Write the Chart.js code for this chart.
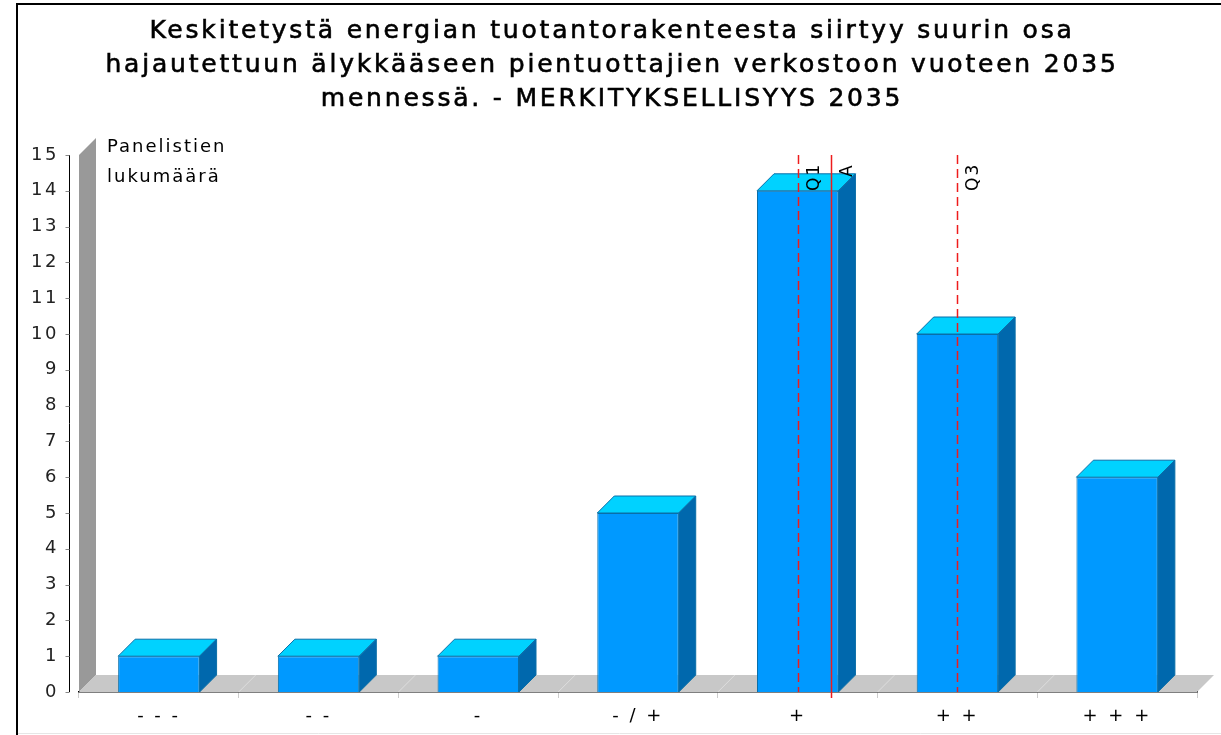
<!DOCTYPE html>
<html>
<head>
<meta charset="utf-8">
<script src="https://cdn.jsdelivr.net/npm/chart.js@4/dist/chart.umd.min.js"></script>
<style>
  html, body { margin: 0; padding: 0; background: #fff; }
  #wrap { width: 1221px; height: 735px; }
</style>
</head>
<body>
<div id="wrap"><canvas id="chart" width="1221" height="735"></canvas></div>
<script>
// data
var titleLines = [
  'Keskitetystä energian tuotantorakenteesta siirtyy suurin osa',
  'hajautettuun älykkääseen pientuottajien verkostoon vuoteen 2035',
  'mennessä. - MERKITYKSELLISYYS 2035'
];
var categories = ['- - -', '- -', '-', '- / +', '+', '+ +', '+ + +'];
var counts = [1, 1, 1, 5, 14, 10, 6];
var yTicks = [0, 15];
var axisLabel = ['Panelistien', 'lukumäärä'];
// reference lines, position in category units
var refNames = ['Q1', 'A', 'Q3'];
var refValues = [4, 4.21, 5];

var DEPTH = 17;
var FONT = 'DejaVu Sans';
var SPACING = '2.5px';

var deco = {
  id: 'deco',
  beforeDraw: function(chart) {
    var c = chart.ctx;
    // the canvas gets reset on resize, so the spacing is set here
    c.letterSpacing = SPACING;
    c.save();
    c.strokeStyle = '#000';
    c.lineWidth = 2;
    c.beginPath();
    c.moveTo(17, 736);
    c.lineTo(17, 4);
    c.lineTo(1222, 4);
    c.stroke();
    c.strokeStyle = '#e6e6e6';
    c.lineWidth = 1;
    c.beginPath();
    c.moveTo(18, 733.5);
    c.lineTo(1221, 733.5);
    c.stroke();

    // title, spaced out like the original
    c.fillStyle = '#000';
    c.strokeStyle = '#000';
    c.lineWidth = 0.6;
    c.font = '25px ' + FONT;
    c.letterSpacing = '2.8px';
    c.textAlign = 'center';
    c.textBaseline = 'middle';
    titleLines.forEach(function(t, i) {
      c.fillText(t, 612, 31 + i * 34);
      c.strokeText(t, 612, 31 + i * 34);
    });
    c.restore();
  },
  beforeDatasetsDraw: function(chart) {
    var c = chart.ctx, a = chart.chartArea, d = DEPTH;
    c.save();
    // left wall
    c.fillStyle = '#999999';
    c.beginPath();
    c.moveTo(a.left, a.top);
    c.lineTo(a.left + d, a.top - d);
    c.lineTo(a.left + d, a.bottom - d);
    c.lineTo(a.left, a.bottom);
    c.closePath();
    c.fill();
    // floor
    c.fillStyle = '#c8c8c8';
    c.beginPath();
    c.moveTo(a.left, a.bottom);
    c.lineTo(a.left + d, a.bottom - d);
    c.lineTo(a.right + d, a.bottom - d);
    c.lineTo(a.right, a.bottom);
    c.closePath();
    c.fill();
    c.strokeStyle = '#dedede';
    c.lineWidth = 1;
    var w = (a.right - a.left) / categories.length;
    for (var i = 1; i < categories.length; i++) {
      var x = a.left + w * i;
      c.beginPath();
      c.moveTo(x, a.bottom);
      c.lineTo(x + d, a.bottom - d);
      c.stroke();
    }
    c.restore();
  },
  afterDatasetsDraw: function(chart) {
    var c = chart.ctx, a = chart.chartArea, d = DEPTH;
    var ys = chart.scales.y, xs = chart.scales.x;
    c.save();
    chart.getDatasetMeta(0).data.forEach(function(bar) {
      var l = bar.x - bar.width / 2, r = bar.x + bar.width / 2;
      var t = bar.y, b = bar.base;
      c.lineWidth = 1;
      c.strokeStyle = '#0a6fa8';
      c.fillStyle = '#00d2ff';
      c.beginPath();
      c.moveTo(l, t);
      c.lineTo(l + d, t - d);
      c.lineTo(r + d, t - d);
      c.lineTo(r, t);
      c.closePath();
      c.fill();
      c.stroke();
      c.fillStyle = '#0068ad';
      c.beginPath();
      c.moveTo(r, t);
      c.lineTo(r + d, t - d);
      c.lineTo(r + d, b - d);
      c.lineTo(r, b);
      c.closePath();
      c.fill();
      c.stroke();
    });

    // y axis line and tick marks, set a little left of the wall
    var ax = a.left - 9.5;
    c.strokeStyle = '#000';
    c.lineWidth = 1;
    c.beginPath();
    c.moveTo(ax, ys.getPixelForValue(yTicks[1]));
    c.lineTo(ax, ys.getPixelForValue(yTicks[0]));
    c.stroke();
    c.strokeStyle = '#888';
    for (var v = yTicks[0]; v <= yTicks[1]; v++) {
      var py = Math.round(ys.getPixelForValue(v)) + 0.5;
      c.beginPath();
      c.moveTo(ax - 4, py);
      c.lineTo(ax, py);
      c.stroke();
    }

    // reference lines
    c.strokeStyle = '#ee1c1c';
    c.fillStyle = '#000';
    c.font = '17px ' + FONT;
    c.letterSpacing = '2px';
    refNames.forEach(function(name, i) {
      var x = Math.round(xs.getPixelForValue(refValues[i])) + 0.5;
      c.lineWidth = 1.5;
      c.setLineDash(name === 'A' ? [] : [9, 5]);
      c.beginPath();
      c.moveTo(x, ys.getPixelForValue(yTicks[1]));
      c.lineTo(x, name === 'A' ? a.bottom + 6 : a.bottom);
      c.stroke();
      c.setLineDash([]);
      c.save();
      c.translate(x + 8, name === 'A' ? a.top + 22 : a.top + 36);
      c.rotate(-Math.PI / 2);
      c.textAlign = 'left';
      c.textBaseline = 'top';
      c.fillText(name, 0, 0);
      c.restore();
    });

    // axis caption
    c.fillStyle = '#000';
    c.font = '18px ' + FONT;
    c.letterSpacing = '2px';
    c.textAlign = 'left';
    c.textBaseline = 'middle';
    c.fillText(axisLabel[0], a.left + 28, a.top - 8);
    c.fillText(axisLabel[1], a.left + 28, a.top + 22);
    c.restore();
  }
};

var canvas = document.getElementById('chart');

new Chart(canvas, {
  type: 'bar',
  data: {
    labels: categories,
    datasets: [{
      data: counts,
      backgroundColor: '#0099ff',
      borderColor: '#0a6fa8',
      borderWidth: 1,
      categoryPercentage: 1,
      barPercentage: 0.51
    }]
  },
  options: {
    responsive: false,
    animation: false,
    layout: { padding: { left: 0, right: 24, top: 155, bottom: 0 } },
    plugins: {
      legend: { display: false },
      tooltip: { enabled: false },
      title: { display: false }
    },
    scales: {
      x: {
        afterFit: function(s) { s.height = 43; },
        grid: { offset: true, drawOnChartArea: false, drawTicks: true, tickLength: 6, color: '#cccccc' },
        border: { display: true, color: '#000', width: 1.5 },
        ticks: { color: '#000', font: { family: FONT, size: 18 }, padding: 8, maxRotation: 0 }
      },
      y: {
        min: yTicks[0],
        max: yTicks[1],
        afterFit: function(s) { s.width = 79; },
        grid: { display: false },
        border: { display: false },
        ticks: { stepSize: 1, color: '#222', font: { family: FONT, size: 18 }, padding: 12 }
      }
    }
  },
  plugins: [deco]
});
</script>
</body>
</html>
